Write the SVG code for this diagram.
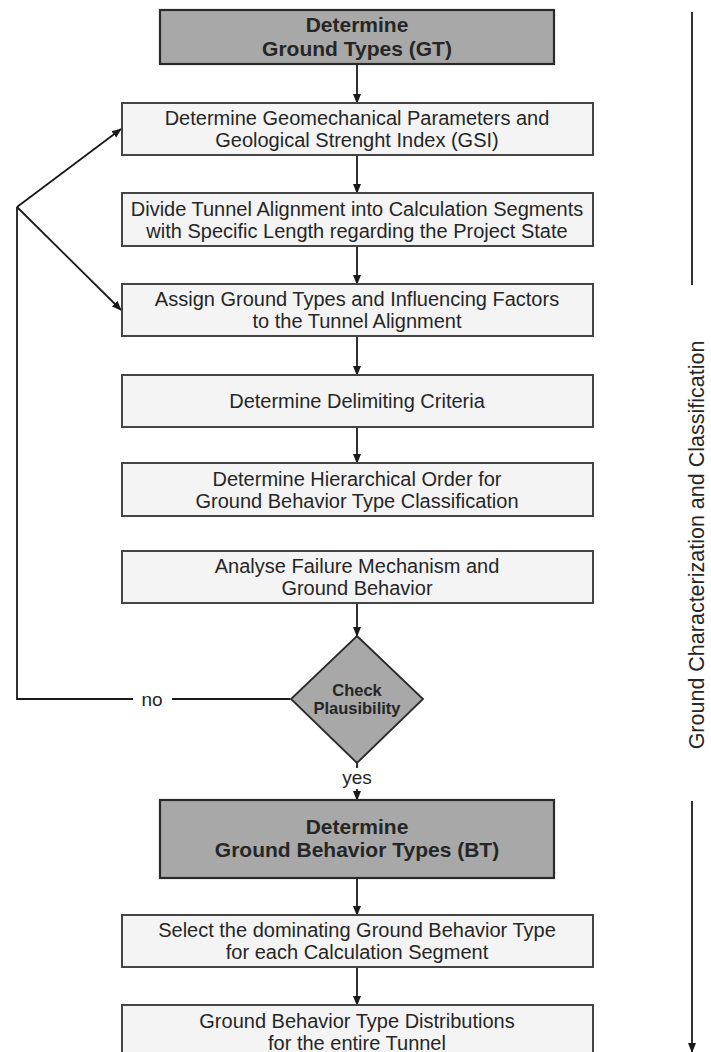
<svg xmlns="http://www.w3.org/2000/svg" width="711" height="1052" viewBox="0 0 711 1052">
<defs>
<marker id="ah" markerWidth="10" markerHeight="10" refX="9" refY="5" orient="auto" markerUnits="userSpaceOnUse">
<path d="M0,1 L10,5 L0,9 Z" fill="#1a1a1a"/>
</marker>
<style>
.hdr{fill:#a8a8a8;stroke:#2a2a2a;stroke-width:2.2}
.box{fill:#f4f4f4;stroke:#444;stroke-width:2}
.dia{fill:#a8a8a8;stroke:#2a2a2a;stroke-width:1.8}
.t{font-family:"Liberation Sans",Arial,sans-serif;font-size:20px;fill:#262626;text-anchor:middle}
.tb{font-family:"Liberation Sans",Arial,sans-serif;font-size:21px;font-weight:bold;fill:#262626;text-anchor:middle}
.td{font-family:"Liberation Sans",Arial,sans-serif;font-size:16.5px;font-weight:bold;fill:#262626;text-anchor:middle}
.tl{font-family:"Liberation Sans",Arial,sans-serif;font-size:19px;fill:#262626;text-anchor:middle}
.c{fill:none;stroke:#1a1a1a;stroke-width:1.8}
</style>
</defs>
<rect width="711" height="1052" fill="#fff"/>

<g id="connectors">
<line class="c" x1="357" y1="65" x2="357" y2="103" marker-end="url(#ah)"/>
<line class="c" x1="357" y1="156" x2="357" y2="193" marker-end="url(#ah)"/>
<line class="c" x1="357" y1="247" x2="357" y2="284" marker-end="url(#ah)"/>
<line class="c" x1="357" y1="337" x2="357" y2="375" marker-end="url(#ah)"/>
<line class="c" x1="357" y1="428" x2="357" y2="463" marker-end="url(#ah)"/>
<line class="c" x1="357" y1="604" x2="357" y2="636" marker-end="url(#ah)"/>
<line class="c" x1="357" y1="763" x2="357" y2="768"/>
<line class="c" x1="357" y1="789" x2="357" y2="800" marker-end="url(#ah)"/>
<line class="c" x1="357" y1="879" x2="357" y2="915" marker-end="url(#ah)"/>
<line class="c" x1="357" y1="968" x2="357" y2="1005" marker-end="url(#ah)"/>
<polyline class="c" points="290,699 172,699"/>
<polyline class="c" points="133,699 17,699 17,207"/>
<line class="c" x1="17" y1="207" x2="121" y2="129" marker-end="url(#ah)"/>
<line class="c" x1="17" y1="207" x2="121" y2="310" marker-end="url(#ah)"/>
<text class="tl" x="152" y="706">no</text>
<text class="tl" x="357" y="784">yes</text>
</g>

<g id="n_gt">
<rect class="hdr" x="160" y="10" width="394" height="54"/>
<text class="tb" x="357" y="32">Determine</text>
<text class="tb" x="357" y="56">Ground Types (GT)</text>
</g>
<g id="n_geo">
<rect class="box" x="122" y="103" width="471" height="52"/>
<text class="t" x="357" y="125">Determine Geomechanical Parameters and</text>
<text class="t" x="357" y="147">Geological Strenght Index (GSI)</text>
</g>
<g id="n_divide">
<rect class="box" x="122" y="193" width="471" height="53"/>
<text class="t" x="357" y="215.5">Divide Tunnel Alignment into Calculation Segments</text>
<text class="t" x="357" y="237.5">with Specific Length regarding the Project State</text>
</g>
<g id="n_assign">
<rect class="box" x="122" y="284" width="471" height="52"/>
<text class="t" x="357" y="306">Assign Ground Types and Influencing Factors</text>
<text class="t" x="357" y="328">to the Tunnel Alignment</text>
</g>
<g id="n_delim">
<rect class="box" x="122" y="375" width="471" height="52"/>
<text class="t" x="357" y="408">Determine Delimiting Criteria</text>
</g>
<g id="n_hier">
<rect class="box" x="122" y="463" width="471" height="53"/>
<text class="t" x="357" y="485.5">Determine Hierarchical Order for</text>
<text class="t" x="357" y="507.5">Ground Behavior Type Classification</text>
</g>
<g id="n_fail">
<rect class="box" x="122" y="551" width="471" height="52"/>
<text class="t" x="357" y="573">Analyse Failure Mechanism and</text>
<text class="t" x="357" y="595">Ground Behavior</text>
</g>
<g id="n_check">
<polygon class="dia" points="357,636 423,699 357,763 291,699"/>
<text class="td" x="357" y="696">Check</text>
<text class="td" x="357" y="714">Plausibility</text>
</g>
<g id="n_bt">
<rect class="hdr" x="160" y="800" width="394" height="78"/>
<text class="tb" x="357" y="834">Determine</text>
<text class="tb" x="357" y="857">Ground Behavior Types (BT)</text>
</g>
<g id="n_select">
<rect class="box" x="122" y="915" width="471" height="52"/>
<text class="t" x="357" y="937">Select the dominating Ground Behavior Type</text>
<text class="t" x="357" y="959">for each Calculation Segment</text>
</g>
<g id="n_dist">
<rect class="box" x="122" y="1005" width="471" height="60"/>
<text class="t" x="357" y="1028">Ground Behavior Type Distributions</text>
<text class="t" x="357" y="1050">for the entire Tunnel</text>
</g>

<g id="side">
<line class="c" x1="692" y1="12" x2="692" y2="285"/>
<line class="c" x1="692" y1="801" x2="692" y2="1052" marker-end="url(#ah)"/>
<text class="t" style="font-size:21.5px" transform="translate(704,545) rotate(-90)" x="0" y="0">Ground Characterization and Classification</text>
</g>
</svg>
